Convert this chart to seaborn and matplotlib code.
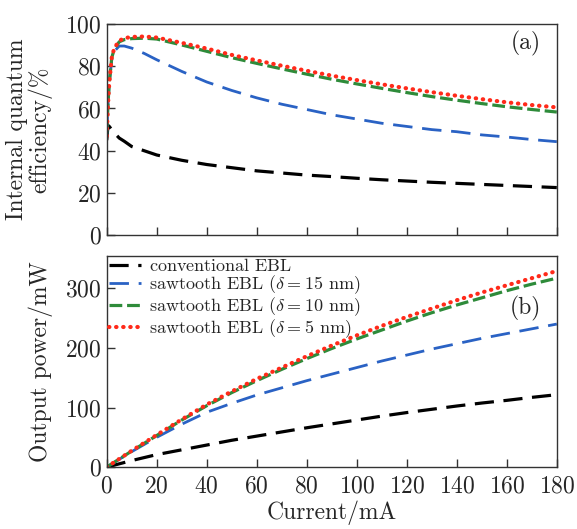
import numpy as np
import pandas as pd
import matplotlib
matplotlib.use("Agg")
import matplotlib.pyplot as plt
import seaborn as sns

sns.set_theme(style="ticks")
plt.rcParams['font.family'] = ['cmr10', 'DejaVu Serif']
plt.rcParams['mathtext.fontset'] = 'cm'
plt.rcParams['axes.formatter.use_mathtext'] = True

# IQE panel (a)
iqe_current = [0, 0.5, 1, 2, 3, 5, 7, 10, 15, 20, 30, 40, 50, 60, 70, 80, 90, 100, 110, 120, 130, 140, 150, 160, 170, 180]
iqe_conv =  [45, 52, 51.5, 50, 48.5, 46, 44.5, 42, 40, 38, 35.5, 33.5, 32, 30.5, 29.5, 28.5, 27.8, 27, 26.3, 25.7, 25.1, 24.6, 24.1, 23.6, 23.1, 22.6]
iqe_d15 =   [47, 62, 72, 83, 87, 89.5, 89.5, 88.5, 86, 83, 77.5, 72.5, 68.5, 65, 62, 59.5, 57, 55, 53, 51.5, 50, 49, 47.5, 46.5, 45.3, 44.3]
iqe_d10 =   [48, 62, 72, 84, 88, 91.5, 92.5, 93, 93.2, 92.8, 90, 87, 84, 81.3, 78.7, 76.2, 73.8, 71.6, 69.5, 67.5, 65.6, 63.9, 62.3, 60.8, 59.5, 58.3]
iqe_d5 =    [47, 62, 72, 84, 88.5, 92, 93.2, 93.8, 94, 93.5, 91, 88.3, 85.3, 82.7, 80.2, 77.8, 75.5, 73.4, 71.4, 69.5, 67.7, 66, 64.4, 62.9, 61.6, 60.5]

# Output power panel (b)
pow_current = [0, 10, 20, 30, 40, 50, 60, 70, 80, 90, 100, 110, 120, 130, 140, 150, 160, 170, 180]
pow_conv = [0, 11, 21, 29, 37, 45, 52, 59, 66, 72.5, 79, 85.5, 91.5, 97, 102.5, 107.5, 112, 117, 121.5]
pow_d15 = [0, 26, 50, 72, 92, 107, 121, 133, 145, 156, 167, 178, 188, 198, 207, 216, 224, 232, 240]
pow_d10 = [0, 27, 53, 79, 103, 125, 145, 164, 182, 199, 215, 230, 245, 259, 272, 284, 296, 307, 317]
pow_d5 = [0, 27.5, 54, 80, 105, 127, 148, 167, 186, 204, 221, 237, 252, 266, 280, 293, 305, 317, 329]

labels = [r"conventional EBL$\mathregular{}$",
          r"sawtooth EBL ($\delta = 15$ nm)",
          r"sawtooth EBL ($\delta = 10$ nm)",
          r"sawtooth EBL ($\delta = 5$ nm)"]
colors = ["black", "#2a62c4", "#2e8b3a", "#ff2a1a"]
dash_styles = [(6, 3), (7, 3.5), (4, 1.5), None]
lws = [2.3, 2.0, 2.3, 3.0]

fig = plt.figure(figsize=(5.77, 5.29), dpi=100)
ax1 = fig.add_axes([0.185, 0.555, 0.78, 0.400])
ax2 = fig.add_axes([0.185, 0.117, 0.78, 0.400])

iqe_sets = [iqe_conv, iqe_d15, iqe_d10, iqe_d5]
pow_sets = [pow_conv, pow_d15, pow_d10, pow_d5]


def style_line(line, i):
    if dash_styles[i] is None:
        line.set_linestyle((0, (0.1, 1.6)))
        line.set_dash_capstyle('round')
    else:
        line.set_dashes(dash_styles[i])


for i in range(4):
    df = pd.DataFrame({"x": iqe_current, "y": iqe_sets[i]})
    sns.lineplot(data=df, x="x", y="y", ax=ax1, color=colors[i], lw=lws[i])
    style_line(ax1.lines[-1], i)
    df = pd.DataFrame({"x": pow_current, "y": pow_sets[i]})
    sns.lineplot(data=df, x="x", y="y", ax=ax2, color=colors[i], lw=lws[i], label=labels[i])
    style_line(ax2.lines[-1], i)

for ax in (ax1, ax2):
    ax.set_xlim(0, 180)
    ax.set_xticks(np.arange(0, 181, 20))
    ax.tick_params(direction='in', length=6, width=1, labelsize=17, color='#333333')
    ax.tick_params(axis='x', pad=6)
    for s in ax.spines.values():
        s.set_linewidth(1.0)
        s.set_color('#333333')

ax1.set_ylim(0, 100)
ax1.set_yticks(np.arange(0, 101, 20))
ax1.set_xticklabels([])
ax1.set_xlabel("")
ax1.set_ylabel("Internal quantum\nefficiency/%", fontsize=17, linespacing=1.0)
ax1.text(0.965, 0.88, "(a)", transform=ax1.transAxes, ha='right', fontsize=17)

ax2.set_ylim(0, 355)
ax2.set_yticks([0, 100, 200, 300])
ax2.set_xlabel("Current/mA", fontsize=17, labelpad=2)
ax2.set_ylabel("Output power/mW", fontsize=17)
ax2.text(0.965, 0.72, "(b)", transform=ax2.transAxes, ha='right', fontsize=17)
leg = ax2.legend(loc='upper left', fontsize=13, frameon=False, handlelength=1.8,
                 borderaxespad=0.0, borderpad=0.1, labelspacing=-0.05, handletextpad=0.45)

ax1.yaxis.set_label_coords(-0.12, 0.5)
ax2.yaxis.set_label_coords(-0.12, 0.5)

fig.savefig("out.png", dpi=100)
